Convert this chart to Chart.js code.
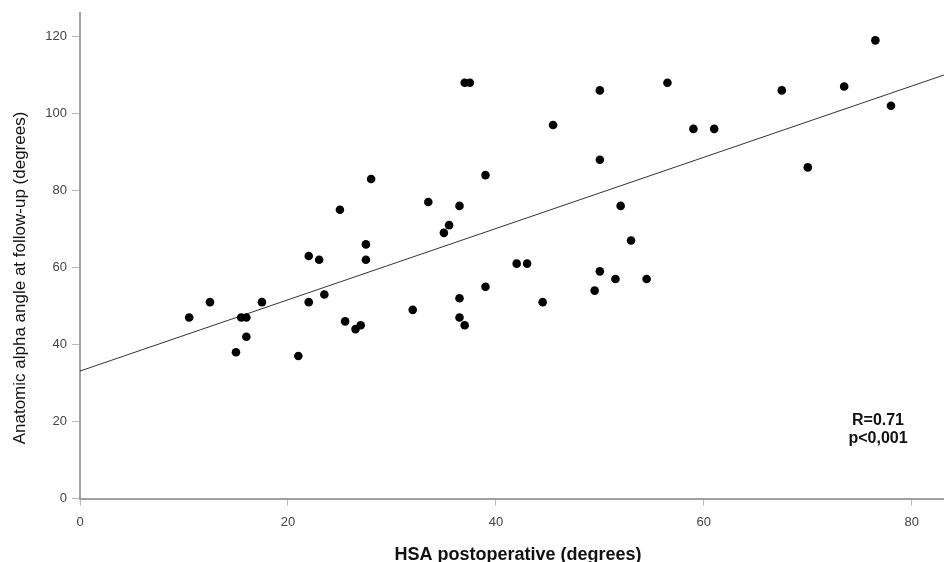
<!DOCTYPE html>
<html>
<head>
<meta charset="utf-8">
<script src="https://cdn.jsdelivr.net/npm/chart.js@4.4.1/dist/chart.umd.min.js"></script>
<style>
  html,body{margin:0;padding:0;background:#fff;overflow:hidden;}
  #wrap{width:944px;height:562px;position:relative;overflow:hidden;}
  canvas{display:block;}
</style>
</head>
<body>
<div id="wrap"><canvas id="chart"></canvas></div>
<script>
// data
const hsaPost = [10.5,12.5,15,15.5,16,16,17.5,21,22,22,23,23.5,25,25.5,26.5,27,27.5,27.5,28,32,
  33.5,35,35.5,36.5,36.5,36.5,37,37,37.5,39,39,42,43,44.5,45.5,49.5,50,50,50,51.5,
  52,53,54.5,56.5,59,61,67.5,70,73.5,76.5,78];
const alphaFollow = [47,51,38,47,47,42,51,37,51,63,62,53,75,46,44,45,66,62,83,49,
  77,69,71,76,52,47,45,108,108,84,55,61,61,51,97,54,106,88,59,57,
  76,67,57,108,96,96,106,86,107,119,102];
const fitX = [0, 83.1];
const fitY = [33.1, 110];
const xTicks = [0,20,40,60,80];
const yTicks = [0,20,40,60,80,100,120];
const statLines = ["R=0.71","p<0,001"];

const FONT = "'Liberation Sans', Arial, sans-serif";
const axisGray = "#a0a0a0";

// titles + stats text
const textPlugin = {
  id:"texts",
  afterDraw(chart){
    const ctx = chart.ctx;
    ctx.save();
    ctx.fillStyle = "#111";
    ctx.textAlign = "center";
    ctx.textBaseline = "middle";
    ctx.font = "bold 18px " + FONT;
    ctx.fillText("HSA postoperative (degrees)", 518, 555);
    ctx.save();
    ctx.translate(20.5, 278);
    ctx.rotate(-Math.PI/2);
    ctx.font = "17px " + FONT;
    ctx.fillText("Anatomic alpha angle at follow-up (degrees)", 0, 0);
    ctx.restore();
    ctx.font = "bold 16px " + FONT;
    ctx.fillText(statLines[0], 878, 421);
    ctx.fillText(statLines[1], 878, 439);
    ctx.restore();
  }
};

new Chart(document.getElementById("chart"),{
  type:"scatter",
  data:{
    datasets:[{
      data:hsaPost.map((x,i)=>({x, y:alphaFollow[i]})),
      backgroundColor:"#000",
      pointRadius:4.3,
      pointBorderWidth:0,
      pointHoverRadius:4.3
    },{
      type:"line",
      data:fitX.map((x,i)=>({x, y:fitY[i]})),
      borderColor:"#333",
      borderWidth:1,
      pointRadius:0,
      fill:false
    }]
  },
  options:{
    responsive:true,
    maintainAspectRatio:false,
    animation:false,
    layout:{ autoPadding:false, padding:{ top:13, right:0, left:0, bottom:0 } },
    plugins:{ legend:{display:false}, tooltip:{enabled:false} },
    scales:{
      x:{
        type:"linear",
        min:0, max:83.1,
        afterFit(s){ s.height = 63.5; s.paddingLeft = 0; s.paddingRight = 0; },
        afterBuildTicks(s){ s.ticks = xTicks.map(v=>({value:v})); },
        grid:{ drawOnChartArea:false, drawTicks:true, tickLength:7, tickColor:"#b8b8b8", lineWidth:1 },
        border:{ color:axisGray, width:2 },
        ticks:{ padding:9, color:"#444", font:{ family:FONT, size:13 } }
      },
      y:{
        min:0, max:126.1,
        afterFit(s){ s.width = 80; },
        afterBuildTicks(s){ s.ticks = yTicks.map(v=>({value:v})); },
        grid:{ drawOnChartArea:false, drawTicks:true, tickLength:8, tickColor:"#b8b8b8", lineWidth:1 },
        border:{ color:axisGray, width:2 },
        ticks:{ padding:5, color:"#444", font:{ family:FONT, size:13 } }
      }
    }
  },
  plugins:[textPlugin]
});
</script>
</body>
</html>
